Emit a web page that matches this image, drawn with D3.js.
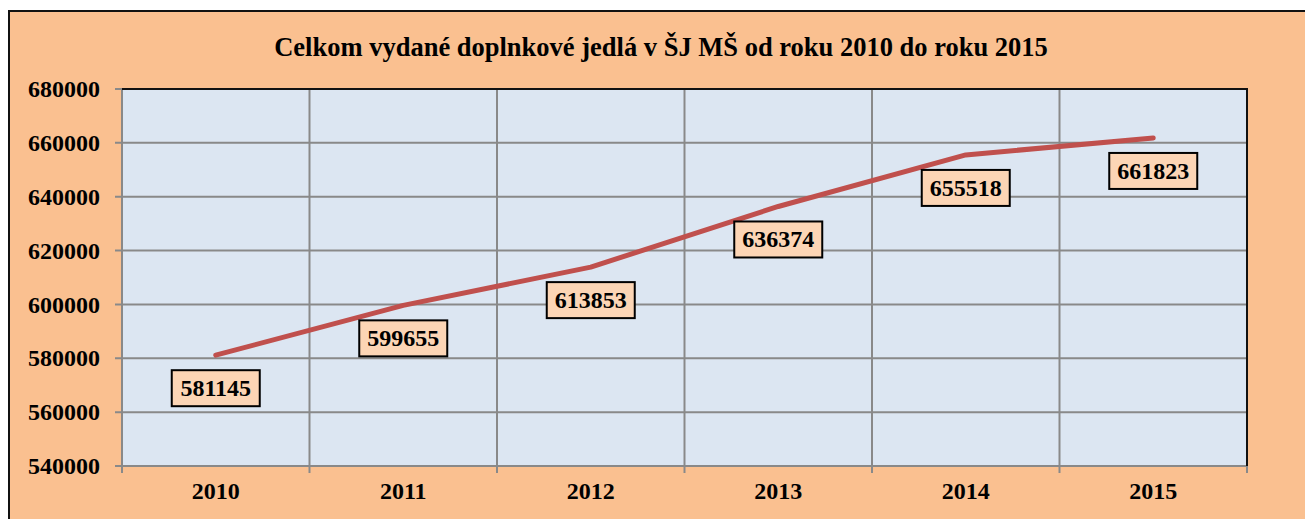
<!DOCTYPE html>
<html>
<head>
<meta charset="utf-8">
<script src="https://cdn.jsdelivr.net/npm/d3@7"></script>
<style>
  body { margin: 0; background: #fff; }
</style>
</head>
<body>
<svg class="chart"></svg>
<script>
// data
var years = ["2010", "2011", "2012", "2013", "2014", "2015"];
var meals = [581145, 599655, 613853, 636374, 655518, 661823];
var yTicks = [540000, 560000, 580000, 600000, 620000, 640000, 660000, 680000];
var title = "Celkom vydané doplnkové jedlá v ŠJ MŠ od roku 2010 do roku 2015";

var width = 1305;
var height = 519;
var plot = {left: 122, top: 89, right: 1247, bottom: 466};
var serif = "'Liberation Serif', 'Times New Roman', serif";

var svg = d3.select(".chart")
  .attr("width", width)
  .attr("height", height);

// outer frame (runs off the right and bottom edge)
svg.append("rect")
  .attr("x", 9)
  .attr("y", 11)
  .attr("width", width + 20)
  .attr("height", height + 20)
  .attr("fill", "#FAC090")
  .attr("stroke", "#111")
  .attr("stroke-width", 2);

var x = d3.scaleBand()
  .domain(years)
  .range([plot.left, plot.right]);

var y = d3.scaleLinear()
  .domain([540000, 680000])
  .range([plot.bottom, plot.top]);

// plot background
svg.append("rect")
  .attr("x", plot.left)
  .attr("y", plot.top)
  .attr("width", plot.right - plot.left)
  .attr("height", plot.bottom - plot.top)
  .attr("fill", "#DCE6F2");

// horizontal grid
svg.selectAll(".hgrid")
  .data(yTicks)
  .enter()
  .append("line")
  .attr("class", "hgrid")
  .attr("x1", plot.left - 7)
  .attr("x2", plot.right)
  .attr("y1", function(d){ return y(d); })
  .attr("y2", function(d){ return y(d); })
  .attr("stroke", "#898989")
  .attr("stroke-width", 2);

// vertical grid at category boundaries
var bounds = years.map(function(d){ return x(d); }).concat([plot.right]);
svg.selectAll(".vgrid")
  .data(bounds)
  .enter()
  .append("line")
  .attr("class", "vgrid")
  .attr("x1", function(d){ return d; })
  .attr("x2", function(d){ return d; })
  .attr("y1", plot.top)
  .attr("y2", plot.bottom + 7)
  .attr("stroke", "#898989")
  .attr("stroke-width", 2);

// top and right border of the plot
svg.append("path")
  .attr("d", "M" + plot.left + "," + plot.top + "H" + plot.right + "V" + plot.bottom)
  .attr("fill", "none")
  .attr("stroke", "#111")
  .attr("stroke-width", 2);

// y axis labels
var yAxis = d3.axisLeft(y).tickValues(yTicks).tickFormat(d3.format("d")).tickSize(0).tickPadding(22);
var gy = svg.append("g")
  .attr("transform", "translate(" + plot.left + ",0)")
  .call(yAxis);
gy.select(".domain").remove();
gy.selectAll("text")
  .style("font-family", serif)
  .style("font-weight", "bold")
  .style("font-size", "24px")
  .attr("fill", "#000");

// x axis labels
var xAxis = d3.axisBottom(x).tickSize(0).tickPadding(16);
var gx = svg.append("g")
  .attr("transform", "translate(0," + plot.bottom + ")")
  .call(xAxis);
gx.select(".domain").remove();
gx.selectAll("text")
  .style("font-family", serif)
  .style("font-weight", "bold")
  .style("font-size", "24px")
  .attr("fill", "#000");

// the line
var line = d3.line()
  .x(function(d, i){ return x(years[i]) + x.bandwidth() / 2; })
  .y(function(d){ return y(d); });

svg.append("path")
  .datum(meals)
  .attr("d", line)
  .attr("fill", "none")
  .attr("stroke", "#C0504D")
  .attr("stroke-width", 5)
  .attr("stroke-linecap", "round")
  .attr("stroke-linejoin", "round");

// data labels
var labels = svg.selectAll(".lab")
  .data(meals)
  .enter()
  .append("g")
  .attr("class", "lab")
  .attr("transform", function(d, i){
    return "translate(" + (x(years[i]) + x.bandwidth() / 2) + "," + (y(d) + 33) + ")";
  });

labels.append("rect")
  .attr("x", -44)
  .attr("y", -18)
  .attr("width", 88)
  .attr("height", 36)
  .attr("fill", "#FCD5B5")
  .attr("stroke", "#000")
  .attr("stroke-width", 2);

labels.append("text")
  .text(function(d){ return d; })
  .attr("text-anchor", "middle")
  .attr("y", 8)
  .style("font-family", serif)
  .style("font-weight", "bold")
  .style("font-size", "24px")
  .attr("fill", "#000");

// title
svg.append("text")
  .text(title)
  .attr("x", 661)
  .attr("y", 56)
  .attr("text-anchor", "middle")
  .style("font-family", serif)
  .style("font-weight", "bold")
  .style("font-size", "26.5px")
  .attr("fill", "#000");
</script>
</body>
</html>
